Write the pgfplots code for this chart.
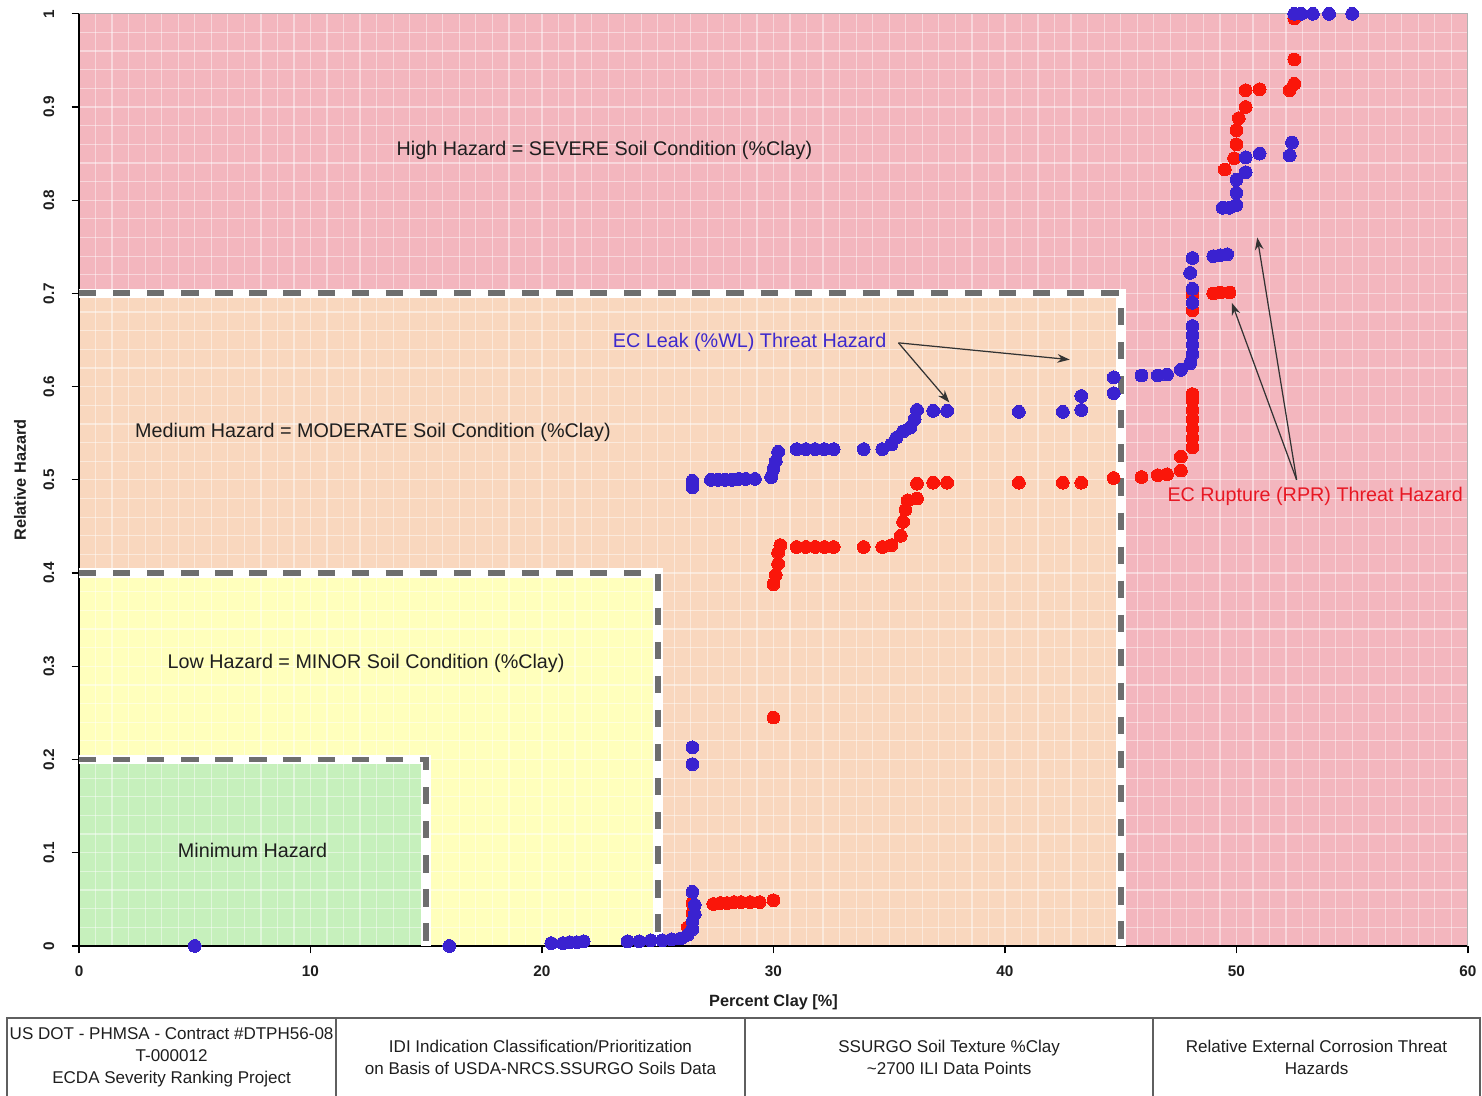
\documentclass[border=0pt]{standalone}
\usepackage{fontspec}
\setmainfont{Liberation Sans}
\usepackage{pgfplots}
\pgfplotsset{compat=1.18}
\usepackage{pgfplotstable}
\usetikzlibrary{arrows.meta}

\definecolor{hzpink}{RGB}{243,182,190}
\definecolor{hzpeach}{RGB}{249,215,190}
\definecolor{hzyellow}{RGB}{255,255,188}
\definecolor{hzgreen}{RGB}{198,240,188}
\definecolor{dashgray}{RGB}{110,110,110}
\definecolor{leakblue}{RGB}{58,34,208}
\definecolor{rupred}{RGB}{250,22,10}
\definecolor{labred}{RGB}{232,24,36}
\definecolor{labblue}{RGB}{60,40,205}
\definecolor{txtdark}{RGB}{30,30,30}
\definecolor{tablegray}{RGB}{95,95,95}

% EC Leak (%WL) threat hazard vs. percent clay
\pgfplotstableread{
x y
5.0 0.000
16.0 0.000
20.4 0.003
20.9 0.003
21.2 0.004
21.5 0.004
21.8 0.005
23.7 0.005
24.2 0.005
24.7 0.006
25.2 0.006
25.6 0.007
26.0 0.008
26.3 0.012
26.5 0.018
26.5 0.026
26.6 0.034
26.6 0.044
26.5 0.058
26.5 0.195
26.5 0.213
26.5 0.492
26.5 0.499
27.3 0.500
27.6 0.500
27.9 0.500
28.2 0.500
28.5 0.501
28.8 0.501
29.2 0.501
29.9 0.503
30.0 0.512
30.1 0.520
30.2 0.530
31.0 0.533
31.4 0.533
31.8 0.533
32.2 0.533
32.6 0.533
33.9 0.533
34.7 0.533
35.1 0.538
35.3 0.545
35.6 0.552
35.9 0.556
36.1 0.565
36.2 0.575
36.9 0.574
37.5 0.574
40.6 0.573
42.5 0.573
43.3 0.575
43.3 0.590
44.7 0.593
44.7 0.610
45.9 0.612
46.6 0.612
47.0 0.613
47.6 0.618
48.0 0.625
48.1 0.635
48.1 0.645
48.1 0.655
48.1 0.665
48.1 0.690
48.1 0.705
48.0 0.722
48.1 0.738
49.0 0.740
49.3 0.741
49.6 0.742
49.4 0.792
49.7 0.792
50.0 0.795
50.0 0.808
50.0 0.822
50.4 0.830
50.4 0.846
51.0 0.850
52.3 0.848
52.4 0.862
52.5 1.000
52.8 1.000
53.3 1.000
54.0 1.000
55.0 1.000
}\leaktable

% EC Rupture (RPR) threat hazard vs. percent clay
\pgfplotstableread{
x y
26.0 0.008
26.3 0.020
26.5 0.035
26.5 0.046
27.4 0.045
27.7 0.046
28.0 0.046
28.3 0.047
28.6 0.047
29.0 0.047
29.4 0.047
30.0 0.049
30.0 0.245
30.0 0.388
30.1 0.398
30.2 0.410
30.2 0.422
30.3 0.430
31.0 0.428
31.4 0.428
31.8 0.428
32.2 0.428
32.6 0.428
33.9 0.428
34.7 0.428
35.1 0.430
35.5 0.440
35.6 0.455
35.7 0.468
35.8 0.478
36.2 0.480
36.2 0.496
36.9 0.497
37.5 0.497
40.6 0.497
42.5 0.497
43.3 0.497
44.7 0.502
45.9 0.503
46.6 0.505
47.0 0.506
47.6 0.510
47.6 0.525
48.1 0.535
48.1 0.545
48.1 0.555
48.1 0.565
48.1 0.575
48.1 0.585
48.1 0.592
48.1 0.682
48.1 0.698
49.0 0.700
49.3 0.701
49.7 0.701
49.5 0.833
49.9 0.845
50.0 0.860
50.0 0.875
50.1 0.888
50.4 0.900
50.4 0.918
51.0 0.919
52.3 0.918
52.5 0.925
52.5 0.951
52.5 0.995
}\ruptable

\begin{document}
\begin{tikzpicture}
\begin{axis}[
  set layers,
  scale only axis,
  width=562.5pt, height=377.5pt,
  xmin=0, xmax=60, ymin=0, ymax=1,
  clip=false,
  axis x line*=bottom, axis y line*=left,
  axis line style={black, line width=0.6pt},
  xtick={0,10,20,30,40,50,60},
  ytick={0,0.1,0.2,0.3,0.4,0.5,0.6,0.7,0.8,0.9,1},
  minor x tick num=13, minor y tick num=4,
  grid=both,
  major grid style={white, opacity=0.45, line width=0.5pt},
  minor grid style={white, opacity=0.45, line width=0.5pt},
  tick align=outside, major tick length=3pt, minor tick length=0pt,
  tick style={black, line width=0.5pt},
  /pgf/number format/assume math mode=true,
  /pgf/number format/fixed,
  ticklabel style={font=\bfseries\fontsize{6.2}{7}\selectfont, text=txtdark},
  yticklabel style={xshift=-3.5pt, rotate=90, anchor=south},
  xticklabel style={yshift=-1.5pt},
  xlabel={Percent Clay [\%]},
  ylabel={Relative Hazard},
  label style={font=\bfseries\fontsize{6.6}{8}\selectfont, text=txtdark},
  xlabel style={at={(axis description cs:0.5,-0.060)}, anchor=center},
  ylabel style={at={(axis description cs:-0.0425,0.5)}, anchor=center},
]
% hazard zones
\addplot[draw=none, fill=hzpink, on layer=axis background, forget plot]
  coordinates {(0,0) (60,0) (60,1) (0,1)} -- cycle;
\addplot[draw=none, fill=hzpeach, on layer=axis background, forget plot]
  coordinates {(0,0) (45,0) (45,0.7) (0,0.7)} -- cycle;
\addplot[draw=none, fill=hzyellow, on layer=axis background, forget plot]
  coordinates {(0,0) (25,0) (25,0.4) (0,0.4)} -- cycle;
\addplot[draw=none, fill=hzgreen, on layer=axis background, forget plot]
  coordinates {(0,0) (15,0) (15,0.2) (0,0.2)} -- cycle;

% zone boundaries
\addplot[white, line width=4pt, mark=none, forget plot] coordinates {(0,0.7) (45,0.7) (45,0)};
\addplot[white, line width=4pt, mark=none, forget plot] coordinates {(0,0.4) (25,0.4) (25,0)};
\addplot[white, line width=4pt, mark=none, forget plot] coordinates {(0,0.2) (15,0.2) (15,0)};
\addplot[dashgray, line width=2.4pt, dash pattern=on 7pt off 6.8pt, mark=none, forget plot] coordinates {(0,0.7) (45,0.7) (45,0)};
\addplot[dashgray, line width=2.4pt, dash pattern=on 7pt off 6.8pt, mark=none, forget plot] coordinates {(0,0.4) (25,0.4) (25,0)};
\addplot[dashgray, line width=2.4pt, dash pattern=on 7pt off 6.8pt, mark=none, forget plot] coordinates {(0,0.2) (15,0.2) (15,0)};

% threat hazard points
\addplot[only marks, mark=*, mark size=2.6pt, color=rupred, mark options={draw=rupred, fill=rupred, line width=0pt}] table[x=x, y=y] {\ruptable};
\addplot[only marks, mark=*, mark size=2.6pt, color=leakblue, mark options={draw=leakblue, fill=leakblue, line width=0pt}] table[x=x, y=y] {\leaktable};

% plot frame, top and right
\draw[gray!60, line width=0.4pt] (rel axis cs:0,1) -- (rel axis cs:1,1) -- (rel axis cs:1,0);

% zone labels
\node[font=\fontsize{8}{9}\selectfont, text=txtdark] at (axis cs:22.7,0.853) {High Hazard = SEVERE Soil Condition (\%Clay)};
\node[font=\fontsize{8}{9}\selectfont, text=txtdark] at (axis cs:12.7,0.551) {Medium Hazard = MODERATE Soil Condition (\%Clay)};
\node[font=\fontsize{8}{9}\selectfont, text=txtdark] at (axis cs:12.4,0.303) {Low Hazard = MINOR Soil Condition (\%Clay)};
\node[font=\fontsize{8}{9}\selectfont, text=txtdark] at (axis cs:7.5,0.102) {Minimum Hazard};

% series callouts
\node[font=\fontsize{8}{9}\selectfont, text=labblue, anchor=east] at (axis cs:35.25,0.647) {EC Leak (\%WL) Threat Hazard};
\draw[black!80, line width=0.5pt, -{Stealth[length=5pt,width=3.5pt]}] (axis cs:35.4,0.647) -- (axis cs:42.8,0.629);
\draw[black!80, line width=0.5pt, -{Stealth[length=5pt,width=3.5pt]}] (axis cs:35.4,0.647) -- (axis cs:37.6,0.583);
\node[font=\fontsize{8}{9}\selectfont, text=labred] at (axis cs:53.4,0.482) {EC Rupture (RPR) Threat Hazard};
\draw[black!80, line width=0.5pt, -{Stealth[length=5pt,width=3.5pt]}] (axis cs:52.6,0.5) -- (axis cs:49.8,0.690);
\draw[black!80, line width=0.5pt, -{Stealth[length=5pt,width=3.5pt]}] (axis cs:52.6,0.5) -- (axis cs:50.9,0.76);
\end{axis}

% project information block
\draw[tablegray, line width=0.8pt] (-29.2pt,-61pt) -- (-29.2pt,-29.2pt) -- (567.4pt,-29.2pt) -- (567.4pt,-61pt);
\draw[tablegray, line width=0.8pt] (104.1pt,-29.2pt) -- (104.1pt,-61pt);
\draw[tablegray, line width=0.8pt] (269.7pt,-29.2pt) -- (269.7pt,-61pt);
\draw[tablegray, line width=0.8pt] (435.0pt,-29.2pt) -- (435.0pt,-61pt);
\begin{scope}[every node/.style={align=center, font=\fontsize{6.9}{9}\selectfont, text=txtdark}]
\node at (37.5pt,-45pt) {US DOT - PHMSA - Contract \#DTPH56-08\\T-000012\\ECDA Severity Ranking Project};
\node at (186.9pt,-45pt) {IDI Indication Classification/Prioritization\\on Basis of USDA-NRCS.SSURGO Soils Data};
\node at (352.4pt,-45pt) {SSURGO Soil Texture \%Clay\\\textasciitilde 2700 ILI Data Points};
\node at (501.2pt,-45pt) {Relative External Corrosion Threat\\Hazards};
\end{scope}

% page extent
\pgfresetboundingbox
\useasboundingbox (-32pt,-60.75pt) rectangle (568.2pt,383.1pt);
\end{tikzpicture}
\end{document}
